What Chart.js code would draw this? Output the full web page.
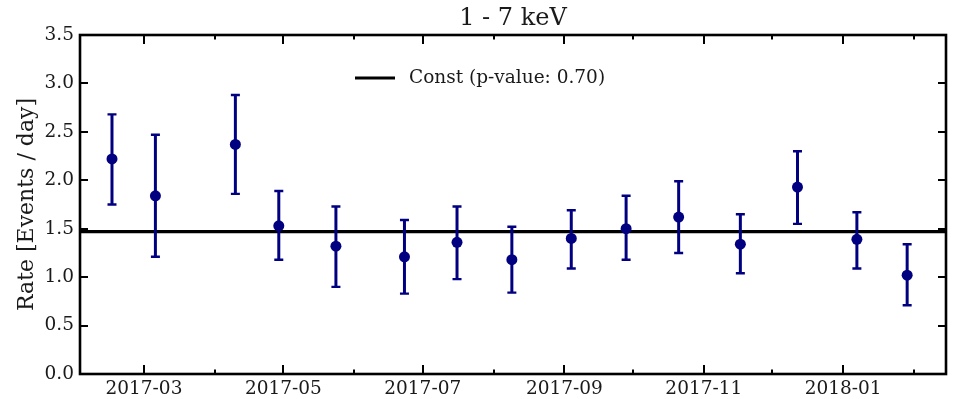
<!DOCTYPE html>
<html>
<head>
<meta charset="utf-8">
<title>1 - 7 keV rate</title>
<script src="https://cdn.jsdelivr.net/npm/chart.js@4.4.1/dist/chart.umd.min.js"></script>
<style>
  html, body { margin: 0; padding: 0; background: #fff; }
  #wrap { width: 957px; height: 399px; }
</style>
</head>
<body>
<div id="wrap"><canvas id="rateChart" width="957" height="399"></canvas></div>
<script>
// Binned event rate (1 - 7 keV) with asymmetric errors and a constant fit
const binDates = ['2017-02-15', '2017-03-06', '2017-04-10', '2017-04-29', '2017-05-24',
  '2017-06-23', '2017-07-16', '2017-08-09', '2017-09-04', '2017-09-28',
  '2017-10-21', '2017-11-17', '2017-12-12', '2018-01-07', '2018-01-29'];
const rates    = [2.22, 1.84, 2.37, 1.53, 1.32, 1.21, 1.36, 1.18, 1.40, 1.50, 1.62, 1.34, 1.93, 1.39, 1.02];
const rateLow  = [1.75, 1.21, 1.86, 1.18, 0.90, 0.83, 0.98, 0.84, 1.09, 1.18, 1.25, 1.04, 1.55, 1.09, 0.71];
const rateHigh = [2.68, 2.47, 2.88, 1.89, 1.73, 1.59, 1.73, 1.52, 1.69, 1.84, 1.99, 1.65, 2.30, 1.67, 1.34];
const constRate = [1.47];
const constLabel = 'Const (p-value: 0.70)';

const yTicks = [0, 0.5, 1.0, 1.5, 2.0, 2.5, 3.0, 3.5];
const xRange = ['2017-02-01', '2018-02-15'];
const monthTicks = ['2017-02', '2017-03', '2017-04', '2017-05', '2017-06', '2017-07', '2017-08',
  '2017-09', '2017-10', '2017-11', '2017-12', '2018-01', '2018-02'];
const labeledMonths = ['2017-03', '2017-05', '2017-07', '2017-09', '2017-11', '2018-01'];

const NAVY = '#000080';
const INK = '#1a1a1a';
const SERIF = "'DejaVu Serif', 'Liberation Serif', serif";
const DAY = 86400000;

// 'YYYY-MM' or 'YYYY-MM-DD' -> days since epoch (linear x axis, no date adapter needed)
const toDay = s => Date.UTC(+s.slice(0, 4), +s.slice(5, 7) - 1, s.length > 7 ? +s.slice(8, 10) : 1) / DAY;
const toMonth = d => new Date(Math.round(d) * DAY).toISOString().slice(0, 7);

const xMin = toDay(xRange[0]);
const xMax = toDay(xRange[1]);

const points = binDates.map((d, i) => ({ x: toDay(d), y: rates[i] }));

const axesPlugin = {
  id: 'axesFrame',
  // error bars go between the fit line and the markers
  beforeDatasetDraw(chart, args) {
    if (args.index !== 0) return;
    const { ctx, scales: { x, y } } = chart;
    ctx.save();
    ctx.strokeStyle = NAVY;
    ctx.lineCap = 'butt';
    binDates.forEach((d, i) => {
      const px = x.getPixelForValue(toDay(d));
      const lo = y.getPixelForValue(rateLow[i]);
      const hi = y.getPixelForValue(rateHigh[i]);
      ctx.lineWidth = 3;
      ctx.beginPath();
      ctx.moveTo(px, lo);
      ctx.lineTo(px, hi);
      ctx.stroke();
      ctx.lineWidth = 2.4;
      ctx.beginPath();
      ctx.moveTo(px - 4.5, lo); ctx.lineTo(px + 4.5, lo);
      ctx.moveTo(px - 4.5, hi); ctx.lineTo(px + 4.5, hi);
      ctx.stroke();
    });
    ctx.restore();
  },
  afterDraw(chart) {
    const { ctx, chartArea: a, scales: { x, y } } = chart;
    ctx.save();
    ctx.strokeStyle = '#000';

    // inward ticks on all four sides
    ctx.lineWidth = 2;
    ctx.beginPath();
    y.ticks.forEach(t => {
      const py = Math.round(y.getPixelForValue(t.value));
      ctx.moveTo(a.left, py); ctx.lineTo(a.left + 8, py);
      ctx.moveTo(a.right, py); ctx.lineTo(a.right - 8, py);
    });
    x.ticks.forEach(t => {
      const px = Math.round(x.getPixelForValue(t.value));
      const len = labeledMonths.includes(toMonth(t.value)) ? 9 : 4.5;
      ctx.moveTo(px, a.bottom); ctx.lineTo(px, a.bottom - len);
      ctx.moveTo(px, a.top); ctx.lineTo(px, a.top + len);
    });
    ctx.stroke();

    // frame
    ctx.lineWidth = 2.6;
    ctx.strokeRect(a.left, a.top, a.right - a.left, a.bottom - a.top);

    // legend inside the axes
    const lx = a.left + 275, ly = a.top + 43;
    ctx.lineWidth = 3.2;
    ctx.beginPath();
    ctx.moveTo(lx, ly); ctx.lineTo(lx + 40, ly);
    ctx.stroke();
    ctx.fillStyle = INK;
    ctx.font = `18.5px ${SERIF}`;
    ctx.textBaseline = 'middle';
    ctx.fillText(chart.data.datasets[1].label, lx + 54, ly);
    ctx.restore();
  }
};

new Chart(document.getElementById('rateChart'), {
  data: {
    datasets: [
      {
        type: 'scatter',
        label: 'Rate',
        data: points,
        backgroundColor: NAVY,
        borderWidth: 0,
        pointRadius: 5.5,
        pointHoverRadius: 5.5
      },
      {
        type: 'line',
        label: constLabel,
        data: [{ x: xMin, y: constRate[0] }, { x: xMax, y: constRate[0] }],
        borderColor: '#000',
        borderWidth: 3.2,
        pointRadius: 0,
        fill: false
      }
    ]
  },
  plugins: [axesPlugin],
  options: {
    responsive: false,
    animation: false,
    devicePixelRatio: 1,
    layout: { padding: { left: 0, right: 11, top: 0, bottom: 0 } },
    plugins: {
      legend: { display: false },
      tooltip: { enabled: false },
      title: {
        display: true,
        text: '1 - 7 keV',
        fullSize: false,
        color: INK,
        font: { family: SERIF, size: 24, weight: 'normal' },
        padding: { top: 4, bottom: 2.2 }
      }
    },
    scales: {
      x: {
        type: 'linear',
        min: xMin,
        max: xMax,
        grid: { display: false, drawTicks: false },
        border: { display: false },
        afterBuildTicks: scale => { scale.ticks = monthTicks.map(m => ({ value: toDay(m) })); },
        afterFit: scale => { scale.height = 25; },
        ticks: {
          autoSkip: false,
          maxRotation: 0,
          minRotation: 0,
          padding: 4,
          color: INK,
          font: { family: SERIF, size: 18.5 },
          callback: v => {
            const m = toMonth(v);
            return labeledMonths.includes(m) ? m : '';
          }
        }
      },
      y: {
        type: 'linear',
        min: 0,
        max: 3.5,
        grid: { display: false, drawTicks: false },
        border: { display: false },
        afterBuildTicks: scale => { scale.ticks = yTicks.map(v => ({ value: v })); },
        afterFit: scale => { scale.width = 80; },
        ticks: {
          padding: 6,
          color: INK,
          font: { family: SERIF, size: 18.5 },
          callback: v => v.toFixed(1)
        },
        title: {
          display: true,
          text: 'Rate [Events / day]',
          color: INK,
          font: { family: SERIF, size: 22 },
          padding: { top: 14, bottom: 0 }
        }
      }
    }
  }
});
</script>
</body>
</html>
